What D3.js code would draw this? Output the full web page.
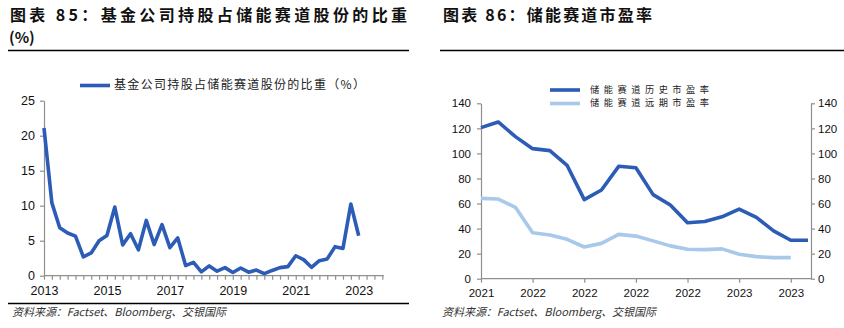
<!DOCTYPE html>
<html>
<head>
<meta charset="utf-8">
<script src="https://cdn.jsdelivr.net/npm/d3@7"></script>
<style>
  html, body { margin: 0; padding: 0; background: #fff; }
  svg { display: block; }
  .num { font-family: "Liberation Sans", Arial, sans-serif; fill: #111; }
  .cjk { font-family: "Noto Sans CJK SC", "Noto Sans", sans-serif; }
</style>
</head>
<body>
<svg id="chart" width="844" height="328"></svg>
<script>
// ---------- DATA ----------
// Left chart: quarterly share (%) of fund holdings in energy-storage stocks, 2013Q1 .. 2023Q1
const leftTitle = "图表 85：基金公司持股占储能赛道股份的比重";
const leftTitle2 = "(%)";
const leftSeriesName = "基金公司持股占储能赛道股份的比重（%）";
const leftValues = [
  21.1, 10.4, 6.85, 6.1, 5.65, 2.7, 3.25, 5.0,
  5.75, 9.8, 4.4, 6.0, 3.7, 7.9, 4.45, 7.3,
  4.0, 5.4, 1.45, 1.9, 0.55, 1.4, 0.65, 1.15,
  0.45, 1.1, 0.5, 0.8, 0.3, 0.75, 1.15, 1.3,
  2.85, 2.3, 1.2, 2.15, 2.4, 4.15, 3.9, 10.25,
  5.7
];
const leftYTicks = [0, 5, 10, 15, 20, 25];
const leftXLabels = ["2013", "2015", "2017", "2019", "2021", "2023"];
const leftQuarterCount = 44; // 2013Q1 .. 2023Q4 tick marks

// Right chart: PE ratios of the energy-storage sector
const rightTitle = "图表 86：储能赛道市盈率";
const rightSeriesNames = ["储能赛道历史市盈率", "储能赛道远期市盈率"];
const histPE = [120.6, 125.1, 113.4, 103.8, 102.2, 90.5, 63.1, 70.8, 89.7, 88.5,
                67.1, 58.8, 44.6, 45.7, 49.4, 55.6, 48.9, 38.2, 30.7, 30.7];
const fwdPE  = [64.1, 63.6, 57.0, 36.7, 34.9, 31.4, 25.3, 28.2, 35.4, 34.0,
                30.2, 26.2, 23.5, 23.2, 23.8, 19.5, 17.6, 16.8, 16.8];
const rightYTicks = [0, 20, 40, 60, 80, 100, 120, 140];
const rightXLabels = ["2021", "2022", "2022", "2022", "2022", "2023", "2023"];
const rightXTickIdx = [0, 3, 6, 9, 12, 15, 18];

const sourceText = "资料来源：Factset、Bloomberg、交银国际";

// ---------- DRAW ----------
const svg = d3.select("#chart");
svg.append("rect").attr("width", 844).attr("height", 328).attr("fill", "#fff");

const darkBlue = "#2c5cb6";
const lightBlue = "#a9c9eb";
const axisGray = "#8f8f8f";

function styleAxis(g) {
  g.selectAll(".domain").attr("stroke", axisGray).attr("stroke-width", 1.2);
  g.selectAll(".tick line").attr("stroke", axisGray).attr("stroke-width", 1.2);
  g.selectAll("text").attr("class", "num").attr("fill", "#111");
}

// ===== LEFT CHART =====
svg.append("text").attr("class", "cjk").attr("x", 10).attr("y", 21)
  .attr("font-size", 16).attr("font-weight", "bold").attr("fill", "#111")
  .attr("textLength", 397).attr("lengthAdjust", "spacing")
  .text(leftTitle);
svg.append("text").attr("class", "cjk").attr("x", 9).attr("y", 43)
  .attr("font-size", 15).attr("font-weight", "bold").attr("fill", "#111")
  .text(leftTitle2);
svg.append("line").attr("x1", 8).attr("x2", 409).attr("y1", 50.5).attr("y2", 50.5)
  .attr("stroke", "#000").attr("stroke-width", 1.5);

const xL = d3.scaleLinear().domain([0, 40]).range([44, 358.7]);
const yL = d3.scaleLinear().domain([0, 25]).range([275.7, 100.7]);

// y axis
const gyL = svg.append("g").attr("transform", `translate(${xL(0)},0)`)
  .call(d3.axisLeft(yL).tickValues(leftYTicks).tickSize(4).tickSizeOuter(0).tickPadding(5));
gyL.selectAll("text").attr("font-size", 12.5);
styleAxis(gyL);

// x axis (quarterly ticks, labels every 8 quarters)
const qIdx = d3.range(leftQuarterCount);
const gxL = svg.append("g").attr("transform", `translate(0,${yL(0)})`)
  .call(d3.axisBottom(xL).tickValues(qIdx).tickSize(4).tickSizeOuter(0).tickPadding(6)
    .tickFormat(i => (i % 8 === 0 && leftXLabels[i / 8]) ? leftXLabels[i / 8] : ""));
gxL.select(".domain").attr("d", `M${xL(0)},0H${xL(43) + 1.5}`);
gxL.selectAll("text").attr("font-size", 12.5);
styleAxis(gxL);

svg.append("path").datum(leftValues)
  .attr("fill", "none").attr("stroke", darkBlue).attr("stroke-width", 3.6)
  .attr("stroke-linejoin", "round")
  .attr("d", d3.line().x((d, i) => xL(i)).y(d => yL(d)));

// legend
svg.append("line").attr("x1", 80).attr("x2", 110).attr("y1", 85.5).attr("y2", 85.5)
  .attr("stroke", darkBlue).attr("stroke-width", 3.6);
svg.append("text").attr("class", "cjk").attr("x", 114).attr("y", 86)
  .attr("dominant-baseline", "middle").attr("font-size", 12).attr("fill", "#222")
  .attr("textLength", 251).attr("lengthAdjust", "spacing")
  .text(leftSeriesName);

// bottom rule + source
svg.append("line").attr("x1", 8).attr("x2", 409).attr("y1", 303.5).attr("y2", 303.5)
  .attr("stroke", "#000").attr("stroke-width", 1.3);
svg.append("text").attr("class", "cjk").attr("x", 12).attr("y", 316)
  .attr("font-size", 11).attr("font-style", "italic").attr("fill", "#333")
  .attr("textLength", 214).attr("lengthAdjust", "spacing")
  .text(sourceText);

// ===== RIGHT CHART =====
svg.append("text").attr("class", "cjk").attr("x", 443).attr("y", 21)
  .attr("font-size", 16).attr("font-weight", "bold").attr("fill", "#111")
  .attr("textLength", 209).attr("lengthAdjust", "spacing")
  .text(rightTitle);
svg.append("line").attr("x1", 440).attr("x2", 844).attr("y1", 50.5).attr("y2", 50.5)
  .attr("stroke", "#000").attr("stroke-width", 1.5);

const xR = d3.scaleLinear().domain([0, 19]).range([481, 808]);
const yR = d3.scaleLinear().domain([0, 140]).range([278.7, 103.3]);
const rightAxisX = 811;

const gyR1 = svg.append("g").attr("transform", `translate(${xR(0)},0)`)
  .call(d3.axisLeft(yR).tickValues(rightYTicks).tickSize(4).tickSizeOuter(0).tickPadding(6));
gyR1.selectAll("text").attr("font-size", 11.5);
styleAxis(gyR1);

const gyR2 = svg.append("g").attr("transform", `translate(${rightAxisX},0)`)
  .call(d3.axisRight(yR).tickValues(rightYTicks).tickSize(4).tickSizeOuter(0).tickPadding(3));
gyR2.selectAll("text").attr("font-size", 11.5);
styleAxis(gyR2);

const gxR = svg.append("g").attr("transform", `translate(0,${yR(0)})`)
  .call(d3.axisBottom(xR).tickValues(rightXTickIdx).tickSize(4).tickSizeOuter(0).tickPadding(6)
    .tickFormat((d, i) => rightXLabels[i]));
gxR.select(".domain").attr("d", `M${xR(0)},0H${rightAxisX}`);
gxR.selectAll("text").attr("font-size", 11.5);
styleAxis(gxR);

const lineR = d3.line().x((d, i) => xR(i)).y(d => yR(d));
svg.append("path").datum(fwdPE)
  .attr("fill", "none").attr("stroke", lightBlue).attr("stroke-width", 3.6)
  .attr("stroke-linejoin", "round").attr("d", lineR);
svg.append("path").datum(histPE)
  .attr("fill", "none").attr("stroke", darkBlue).attr("stroke-width", 3.6)
  .attr("stroke-linejoin", "round").attr("d", lineR);

// legend
const legY = [90, 103.5];
const legColors = [darkBlue, lightBlue];
rightSeriesNames.forEach((name, i) => {
  svg.append("line").attr("x1", 550).attr("x2", 580).attr("y1", legY[i]).attr("y2", legY[i])
    .attr("stroke", legColors[i]).attr("stroke-width", 3.6);
  svg.append("text").attr("class", "cjk").attr("x", 590).attr("y", legY[i])
    .attr("dominant-baseline", "middle").attr("font-size", 9.2).attr("fill", "#222")
    .attr("textLength", 119).attr("lengthAdjust", "spacing")
    .text(name);
});

svg.append("text").attr("class", "cjk").attr("x", 442).attr("y", 316)
  .attr("font-size", 11).attr("font-style", "italic").attr("fill", "#333")
  .attr("textLength", 214).attr("lengthAdjust", "spacing")
  .text(sourceText);
</script>
</body>
</html>
